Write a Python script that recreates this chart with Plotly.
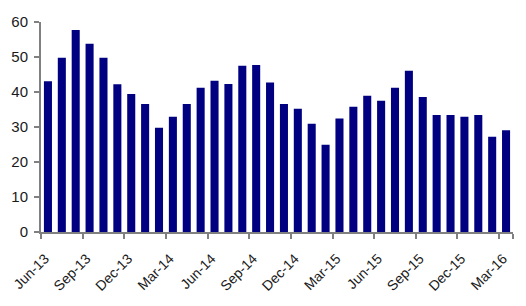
import plotly.graph_objects as go

months = ["Jun-13","Jul-13","Aug-13","Sep-13","Oct-13","Nov-13","Dec-13","Jan-14","Feb-14","Mar-14",
          "Apr-14","May-14","Jun-14","Jul-14","Aug-14","Sep-14","Oct-14","Nov-14","Dec-14","Jan-15",
          "Feb-15","Mar-15","Apr-15","May-15","Jun-15","Jul-15","Aug-15","Sep-15","Oct-15","Nov-15",
          "Dec-15","Jan-16","Feb-16","Mar-16"]
values = [43.1, 49.8, 57.7, 53.8, 49.8, 42.2, 39.4, 36.6, 29.8, 32.9,
          36.6, 41.2, 43.2, 42.3, 47.5, 47.7, 42.7, 36.6, 35.2, 30.9,
          24.9, 32.4, 35.8, 38.9, 37.5, 41.2, 46.1, 38.6, 33.4, 33.4,
          32.9, 33.4, 27.2, 29.1]
tick_labels = months[::3]

fig = go.Figure(go.Bar(x=months, y=values, marker_color="#000080", marker_line_width=0))

fig.update_layout(
    width=526, height=306,
    margin=dict(l=41, r=13, t=22, b=74),
    paper_bgcolor="white", plot_bgcolor="white",
    bargap=0.42, showlegend=False,
    font=dict(family="Liberation Sans, Arial", size=14, color="#1a1a1a"),
)
fig.update_xaxes(
    type="category", tickmode="array", tickvals=tick_labels, ticktext=tick_labels,
    tickson="boundaries", ticks="outside", ticklen=5, tickcolor="#808080", tickwidth=2,
    showline=True, linecolor="#808080", linewidth=2, tickangle=-45, automargin=False,
    showgrid=False, tickfont=dict(size=14), ticklabelstandoff=11, ticklabelshift=-3,
)
fig.update_yaxes(
    range=[0, 60], dtick=10, ticks="outside", ticklen=5, tickcolor="#808080", tickwidth=2,
    showline=True, linecolor="#808080", linewidth=2, showgrid=False, zeroline=False,
    tickfont=dict(size=15), ticklabelstandoff=3, automargin=False,
)
fig.write_html("out.html")
